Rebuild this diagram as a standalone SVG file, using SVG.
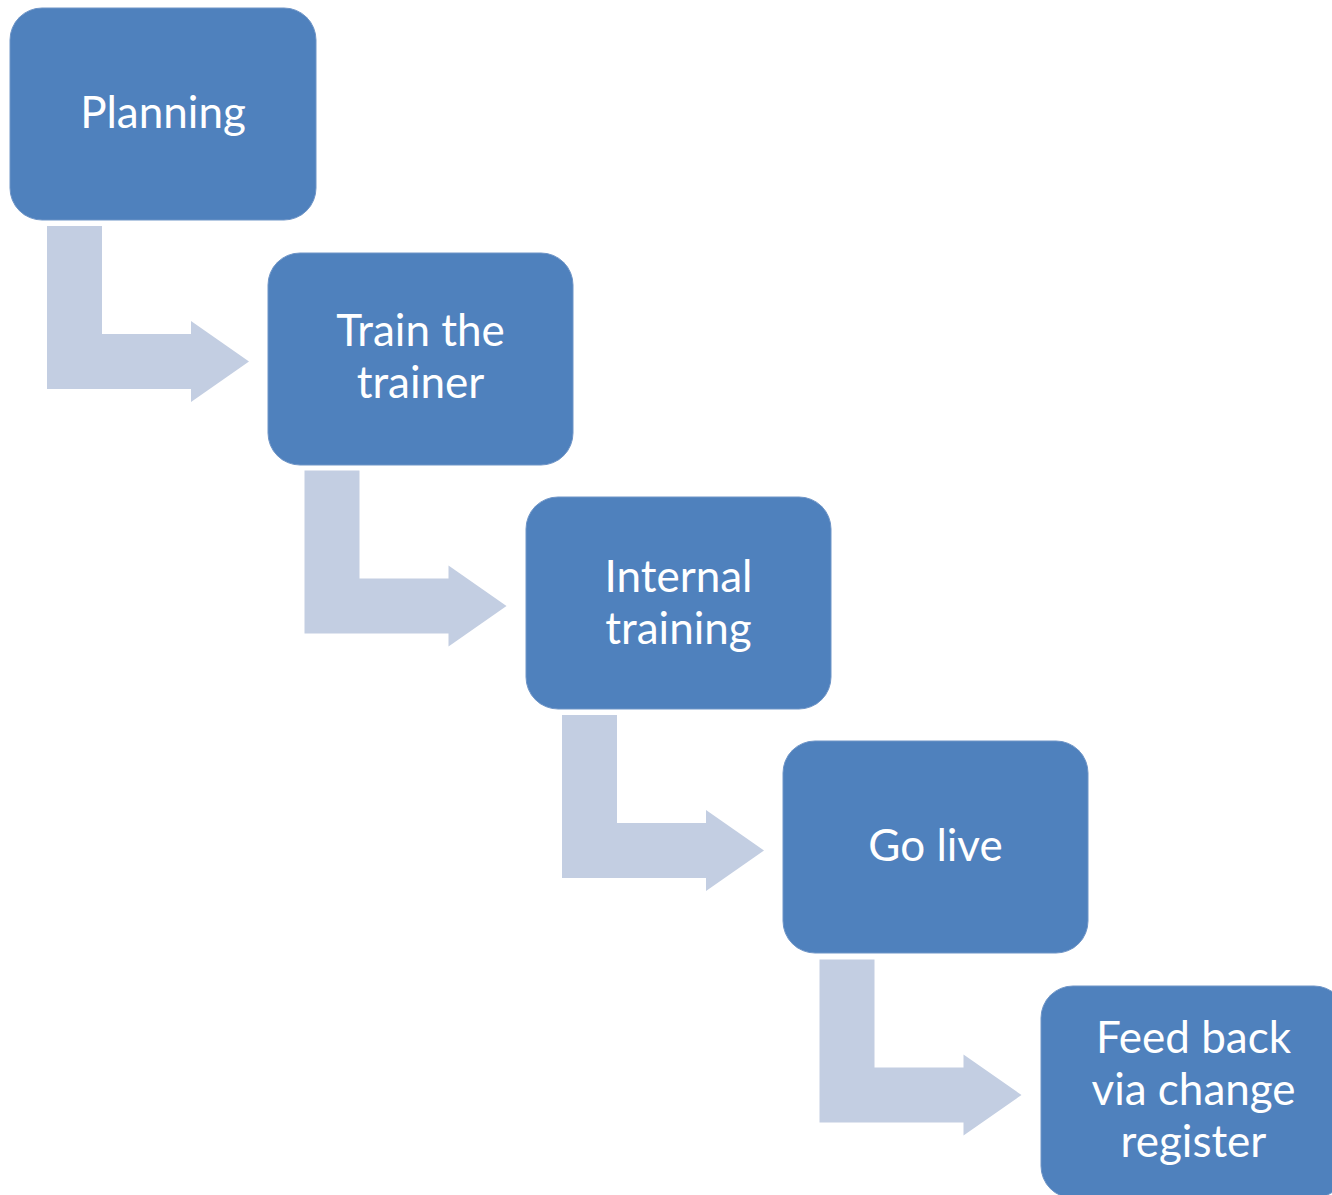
<svg xmlns="http://www.w3.org/2000/svg" width="1332" height="1195" viewBox="0 0 1332 1195">
<style>
.box{fill:#4F81BD;stroke:#6F95C7;stroke-width:1}
.arr{fill:#C3CEE2}
.lbl{font-family:Lato,"Open Sans","Liberation Sans",sans-serif;font-size:44px;fill:#FFFFFF;text-anchor:middle}
</style>
<rect width="1332" height="1195" fill="#FFFFFF"/>
<g id="connectors">
<polygon class="arr" points="47,226 102,226 102,334 191,334 191,321 249,361.5 191,402 191,389 47,389"/>
<polygon class="arr" transform="translate(257.5,244.5)" points="47,226 102,226 102,334 191,334 191,321 249,361.5 191,402 191,389 47,389"/>
<polygon class="arr" transform="translate(515,489)" points="47,226 102,226 102,334 191,334 191,321 249,361.5 191,402 191,389 47,389"/>
<polygon class="arr" transform="translate(772.5,733.5)" points="47,226 102,226 102,334 191,334 191,321 249,361.5 191,402 191,389 47,389"/>
</g>
<g id="node-planning">
<rect class="box" x="10" y="8" width="306" height="212" rx="32"/>
<text class="lbl" x="163" y="128">Planning</text>
</g>
<g id="node-train">
<rect class="box" x="268" y="253" width="305" height="212" rx="32"/>
<text class="lbl" x="420.5" y="346">Train the</text>
<text class="lbl" x="420.5" y="398">trainer</text>
</g>
<g id="node-internal">
<rect class="box" x="526" y="497" width="305" height="212" rx="32"/>
<text class="lbl" x="678.5" y="592">Internal</text>
<text class="lbl" x="678.5" y="644">training</text>
</g>
<g id="node-golive">
<rect class="box" x="783" y="741" width="305" height="212" rx="32"/>
<text class="lbl" x="935.5" y="861">Go live</text>
</g>
<g id="node-feedback">
<rect class="box" x="1041" y="986" width="305" height="212" rx="32"/>
<text class="lbl" x="1193.5" y="1053">Feed back</text>
<text class="lbl" x="1193.5" y="1105">via change</text>
<text class="lbl" x="1193.5" y="1157">register</text>
</g>
</svg>
